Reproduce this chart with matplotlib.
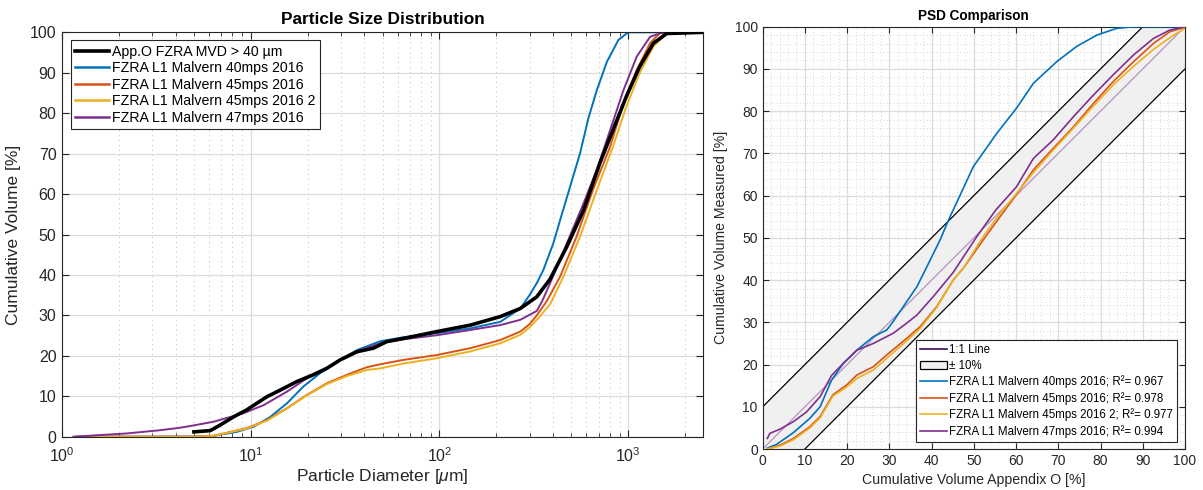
import matplotlib
matplotlib.use("Agg")
import matplotlib.pyplot as plt
from matplotlib.lines import Line2D
from matplotlib.patches import Patch
from matplotlib.ticker import MultipleLocator, LogLocator, NullFormatter

plt.rcParams['font.family'] = ['Liberation Sans', 'DejaVu Sans']
plt.rcParams['mathtext.fontset'] = 'custom'
plt.rcParams['mathtext.rm'] = 'Liberation Sans'
plt.rcParams['mathtext.it'] = 'Liberation Sans:italic'

# ---------------- Left chart data ----------------
black_d = [5.0, 6.1, 6.9, 8.1, 9.5, 10.8, 12.2, 14.3, 17.5, 21.4, 25.3, 29.8, 36.5, 44.7,
           52.5, 64.5, 97, 146, 210, 268, 328, 386, 473, 580, 707, 830, 977, 1150, 1360,
           1600, 2500]
black_v = [1.2, 1.5, 2.9, 4.9, 6.6, 8.3, 9.9, 11.5, 13.6, 15.3, 16.9, 19.0, 21.0, 21.9,
           23.5, 24.3, 26.0, 27.6, 29.7, 31.7, 34.6, 39.0, 47.0, 56.0, 67.6, 75.8, 84.1,
           91.5, 97.3, 99.7, 100]

blue_d = [1.2, 5.0, 6.35, 8.45, 10.4, 12.7, 15.6, 19.0, 23.3, 29.8, 36.5, 48.5, 64.5, 97,
          146, 210, 268, 300, 328, 355, 401, 436, 492, 556, 615, 682, 771, 887, 1000, 2500]
blue_v = [0, 0.05, 0.2, 1.2, 2.5, 4.9, 8.3, 12.4, 15.7, 19.0, 21.4, 23.6, 24.6, 25.6,
          26.8, 28.4, 31.7, 35.0, 38.0, 41.2, 47.8, 53.6, 61.8, 70.1, 78.7, 85.7, 92.7,
          98.1, 100, 100]

orange_d = [1.2, 5.0, 6.35, 9.5, 12.2, 15.5, 19.8, 25.3, 32.3, 41.3, 48.5, 64.5, 97, 146,
            210, 268, 300, 328, 370, 436, 533, 650, 802, 944, 1110, 1306, 1470, 2500]
orange_v = [0, 0, 0.2, 2.1, 4.1, 7.0, 10.3, 13.2, 15.3, 17.2, 17.9, 19.0, 20.2, 21.9,
            23.9, 26.0, 27.8, 30.0, 33.5, 39.6, 49.5, 61.0, 71.7, 82.4, 90.7, 97.3, 99.8, 100]

yellow_d = [1.2, 5.0, 6.35, 9.5, 12.2, 15.5, 19.8, 25.3, 32.3, 41.3, 48.5, 64.5, 97, 146,
            210, 268, 300, 340, 386, 454, 556, 682, 830, 977, 1150, 1360, 1600, 2500]
yellow_v = [0, 0, 0.2, 2.0, 4.0, 6.9, 10.2, 13.0, 15.0, 16.5, 16.9, 18.1, 19.4, 21.1,
            23.1, 25.2, 27.0, 29.7, 32.8, 39.6, 49.5, 61.0, 71.7, 81.6, 89.9, 96.5, 99.7, 100]

purple_d = [1.15, 2.2, 3.3, 4.2, 5.0, 6.35, 9.15, 11.7, 15.5, 19.8, 23.3, 29.8, 38, 48.5,
            64.5, 97, 146, 210, 268, 328, 350, 386, 473, 580, 682, 802, 944, 1110, 1306,
            1538, 2500]
purple_v = [0, 0.8, 1.6, 2.2, 2.8, 3.7, 5.8, 7.8, 11.1, 14.4, 16.1, 19.0, 21.4, 23.1,
            24.1, 25.1, 26.4, 27.6, 28.9, 31.1, 33.5, 38.0, 47.8, 57.7, 66.0, 75.8, 85.7,
            94.0, 98.9, 100, 100]

left_labels = ["App.O FZRA MVD > 40 µm",
               "FZRA L1 Malvern 40mps 2016",
               "FZRA L1 Malvern 45mps 2016",
               "FZRA L1 Malvern 45mps 2016 2",
               "FZRA L1 Malvern 47mps 2016"]

# ---------------- Right chart data ----------------
cmp_blue_x = [1.1, 3.3, 7.3, 11.2, 13.6, 16.3, 19.1, 22.3, 26.2, 29.4, 30.9, 34.1, 36.5,
              38.8, 42.0, 44.0, 49.9, 55.4, 60.1, 64.1, 69.6, 74.3, 79.1, 83.8, 87.8, 100]
cmp_blue_y = [0.2, 1.1, 3.9, 7.3, 10.0, 16.3, 20.3, 23.4, 26.6, 28.2, 30.2, 34.9, 38.4,
              43.0, 49.5, 54.2, 66.9, 74.7, 80.7, 86.6, 91.7, 95.3, 98.0, 99.6, 100, 100]

cmp_orange_x = [1.1, 4.1, 7.3, 11.2, 13.6, 16.6, 19.9, 22.3, 26.2, 29.4, 34.1, 37.3, 41.2,
                45.1, 47.5, 52.2, 56.2, 59.7, 64.1, 68.8, 73.6, 78.3, 83.0, 87.8, 92.5,
                96.4, 100]
cmp_orange_y = [0, 0.9, 2.5, 5.3, 7.7, 12.8, 15.2, 17.5, 19.5, 22.3, 26.2, 29.0, 33.7,
                40.0, 42.8, 49.5, 55.0, 59.7, 66.1, 71.2, 76.3, 81.8, 87.0, 91.7, 96.0,
                98.8, 99.9]

cmp_yellow_x = [1.1, 4.1, 7.3, 11.2, 13.6, 16.6, 19.9, 22.3, 26.2, 29.4, 34.1, 37.3, 41.2,
                45.1, 47.5, 52.2, 56.2, 59.7, 64.1, 68.8, 73.6, 78.3, 83.0, 87.8, 92.5,
                96.4, 100]
cmp_yellow_y = [0, 0.7, 2.2, 5.0, 7.4, 12.5, 14.7, 16.7, 18.7, 21.5, 25.6, 28.6, 33.5,
                40.0, 42.8, 50.3, 55.8, 60.0, 65.5, 70.8, 76.0, 81.2, 86.2, 90.6, 94.6,
                97.4, 99.6]

cmp_purple_x = [1.1, 1.7, 4.1, 7.3, 10.4, 13.6, 16.3, 19.1, 22.3, 26.2, 30.9, 34.1, 36.5,
                40.4, 45.1, 50.7, 55.2, 60.1, 64.1, 68.8, 73.6, 78.3, 83.0, 87.8, 92.5,
                96.4, 100]
cmp_purple_y = [2.5, 3.7, 4.7, 6.5, 8.8, 12.4, 17.4, 20.3, 23.4, 25.0, 27.4, 29.8, 31.7,
                36.1, 41.8, 50.3, 56.6, 62.1, 68.8, 73.2, 78.7, 83.8, 88.6, 93.3, 97.2,
                99.2, 100]

r2_values = [0.967, 0.978, 0.977, 0.994]
band = 10
right_labels = ["FZRA L1 Malvern 40mps 2016", "FZRA L1 Malvern 45mps 2016",
                "FZRA L1 Malvern 45mps 2016 2", "FZRA L1 Malvern 47mps 2016"]

# ---------------- Styles ----------------
C_BLUE = '#0072BD'
C_ORANGE = '#D95319'
C_YELLOW = '#EDB120'
C_PURPLE = '#7E2F8E'
AX_COL = '#262626'
GRID_COL = '#dcdcdc'

fig = plt.figure(figsize=(12.03, 4.90), dpi=100)

# ---------------- Left axes ----------------
ax1 = fig.add_axes([62/1203, 1-436.7/490, (703.3-62)/1203, (436.7-32.3)/490])
ax1.plot(black_d, black_v, color='black', lw=2.6, label=left_labels[0], zorder=5)
ax1.plot(blue_d, blue_v, color=C_BLUE, lw=1.4, label=left_labels[1])
ax1.plot(orange_d, orange_v, color=C_ORANGE, lw=1.4, label=left_labels[2])
ax1.plot(yellow_d, yellow_v, color=C_YELLOW, lw=1.4, label=left_labels[3])
ax1.plot(purple_d, purple_v, color=C_PURPLE, lw=1.4, label=left_labels[4])
ax1.set_xscale('log')
ax1.set_xlim(1, 2500)
ax1.set_ylim(0, 100)
ax1.yaxis.set_major_locator(MultipleLocator(10))
ax1.xaxis.set_minor_locator(LogLocator(base=10, subs=range(2, 10)))
ax1.xaxis.set_minor_formatter(NullFormatter())
ax1.grid(True, which='major', color=GRID_COL, lw=0.9, ls='-')
ax1.grid(True, which='minor', axis='x', color='#bbbbbb', lw=0.7, ls=(0, (1, 4)))
ax1.set_axisbelow(True)
ax1.tick_params(which='both', direction='in', top=True, right=True, colors=AX_COL,
                labelsize=11.5, labelcolor='#262626')
ax1.tick_params(which='major', length=5, width=0.8, pad=4)
ax1.tick_params(axis='x', which='major', pad=7)
ax1.tick_params(which='minor', length=3, width=0.6)
for s in ax1.spines.values():
    s.set_color(AX_COL)
    s.set_linewidth(0.8)
ax1.set_title('Particle Size Distribution', fontsize=12.4, fontweight='bold', pad=6)
ax1.set_xlabel('Particle Diameter [$\\mu$m]', fontsize=12.5, color='#262626', labelpad=1)
ax1.set_ylabel('Cumulative Volume [%]', fontsize=12.5, color='#262626', labelpad=6)
leg1 = ax1.legend(loc='upper left', bbox_to_anchor=(0.014, 0.98), fontsize=10.2,
                  frameon=True, fancybox=False, edgecolor='#262626', framealpha=1,
                  handlelength=2.4, handletextpad=0.2, borderpad=0.3,
                  labelspacing=0.18, borderaxespad=0)
leg1.get_frame().set_linewidth(0.8)
for line in leg1.get_lines():
    line.set_linewidth(1.8)
leg1.get_lines()[0].set_linewidth(2.6)

# ---------------- Right axes ----------------
ax2 = fig.add_axes([762.7/1203, 1-449/490, (1185-762.7)/1203, (449-26.7)/490])
one_x = [0, 100]
ax2.fill([0, 0, 100 - band, 100, 100, band], [0, band, 100, 100, 100 - band, 0],
         color='#f0f0f0', lw=0, zorder=1)
ax2.plot([0, 100 - band], [band, 100], color='black', lw=0.9, zorder=2)
ax2.plot([band, 100], [0, 100 - band], color='black', lw=0.9, zorder=2)
ax2.plot(one_x, one_x, color=C_PURPLE, lw=0.8, alpha=0.55, zorder=3)
ax2.plot(cmp_blue_x, cmp_blue_y, color=C_BLUE, lw=1.2, zorder=4)
ax2.plot(cmp_orange_x, cmp_orange_y, color=C_ORANGE, lw=1.2, zorder=4)
ax2.plot(cmp_yellow_x, cmp_yellow_y, color=C_YELLOW, lw=1.2, zorder=4)
ax2.plot(cmp_purple_x, cmp_purple_y, color=C_PURPLE, lw=1.2, zorder=4)
ax2.set_xlim(0, 100)
ax2.set_ylim(0, 100)
ax2.xaxis.set_major_locator(MultipleLocator(10))
ax2.yaxis.set_major_locator(MultipleLocator(10))
ax2.xaxis.set_minor_locator(MultipleLocator(2))
ax2.yaxis.set_minor_locator(MultipleLocator(2))
ax2.grid(True, which='major', color=GRID_COL, lw=0.9, ls='-', zorder=0)
ax2.grid(True, which='minor', color='#c8c8c8', lw=0.6, ls=(0, (1, 3)), zorder=0)
ax2.set_axisbelow(True)
ax2.tick_params(which='major', direction='in', top=True, right=True, length=4,
                width=0.8, colors=AX_COL, labelsize=10, labelcolor='#262626')
ax2.tick_params(which='minor', length=0)
for s in ax2.spines.values():
    s.set_color(AX_COL)
    s.set_linewidth(0.8)
ax2.set_title('PSD Comparison', fontsize=9.8, fontweight='bold', pad=5)
ax2.set_xlabel('Cumulative Volume Appendix O [%]', fontsize=10.2, color='#262626')
ax2.set_ylabel('Cumulative Volume Measured [%]', fontsize=10.2, color='#262626', labelpad=5)

handles = [Line2D([], [], color='#3a0a55', lw=1.2),
           Patch(facecolor='#f0f0f0', edgecolor='black', lw=0.9),
           Line2D([], [], color=C_BLUE, lw=1.2),
           Line2D([], [], color=C_ORANGE, lw=1.2),
           Line2D([], [], color=C_YELLOW, lw=1.2),
           Line2D([], [], color=C_PURPLE, lw=1.2)]
labels = ['1:1 Line', '± 10%'] + [
    f"{n}; R²= {r:.3f}" for n, r in zip(right_labels, r2_values)]
leg2 = ax2.legend(handles, labels, loc='lower right', bbox_to_anchor=(0.981, 0.017),
                  fontsize=8.3, frameon=True, fancybox=False, edgecolor='#262626',
                  framealpha=1, handlelength=2.3, handletextpad=0.2, borderpad=0.35,
                  labelspacing=0.32, borderaxespad=0)
leg2.get_frame().set_linewidth(0.8)

fig.savefig('out.png', dpi=100)
